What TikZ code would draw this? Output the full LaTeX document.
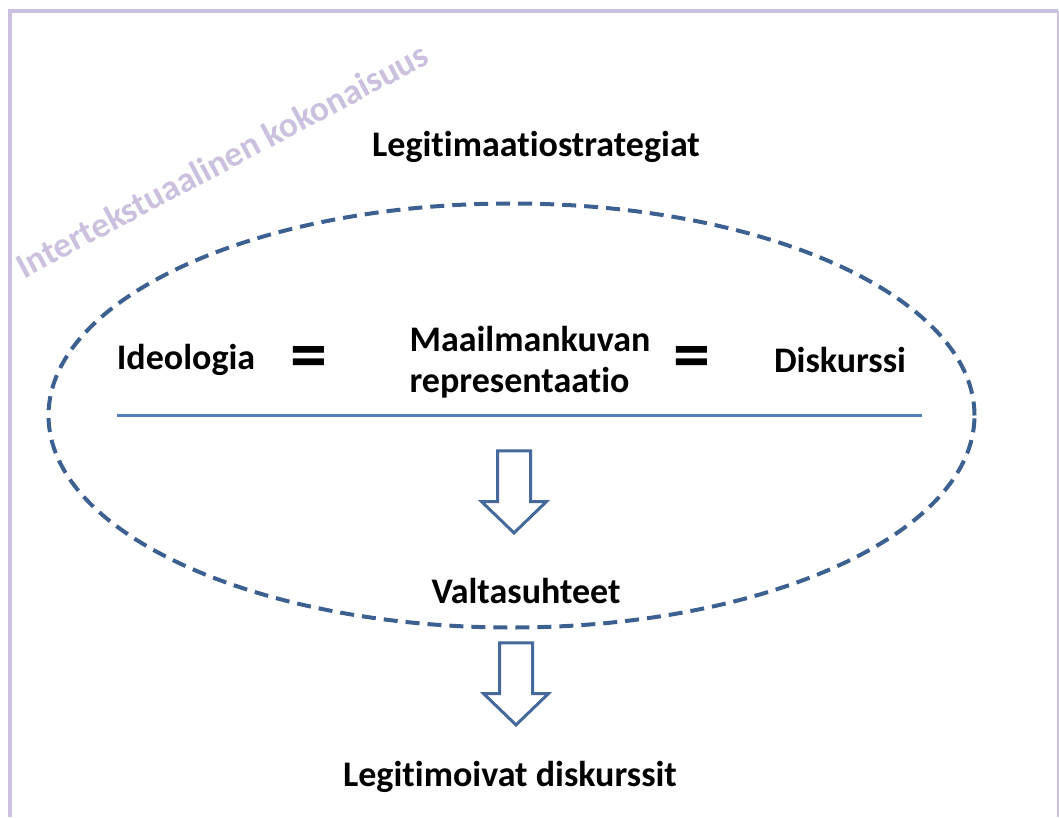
\documentclass[tikz,border=0pt]{standalone}
\usepackage{fontspec}
\setmainfont[Ligatures=NoCommon]{Carlito}
\usetikzlibrary{shapes.geometric, shapes.arrows, positioning}
\definecolor{framelilac}{HTML}{CBC0DD}
\definecolor{ovalblue}{HTML}{3C6090}
\definecolor{ruleblue}{HTML}{4F81BD}
\definecolor{arrowblue}{HTML}{44699A}
\tikzstyle{term} = [font=\bfseries\fontsize{36}{41}\selectfont, align=center, inner sep=0pt, text=black]
\tikzstyle{equal} = [font=\bfseries\fontsize{74}{74}\selectfont, inner sep=0pt]
\tikzstyle{watermark} = [font=\bfseries\fontsize{35.5}{40}\selectfont, text=framelilac, inner sep=0pt, rotate=28]
\tikzstyle{oval} = [ellipse, draw=ovalblue, line width=4pt, dash pattern=on 14pt off 8pt, minimum width=926pt, minimum height=424pt, inner sep=0pt]
\tikzstyle{blockarrow} = [single arrow, draw=arrowblue, line width=3pt, shape border rotate=270, inner sep=15pt, minimum height=82pt, single arrow head extend=16pt, single arrow tip angle=92, anchor=tip]
\tikzstyle{frame} = [framelilac, line width=4pt]

\begin{document}
\begin{tikzpicture}[x=1pt, y=1pt]
\useasboundingbox (0,0) rectangle (1059,-817);

%Frame
\draw [frame] (10,-817) -- (10,-11) -- (1058,-11);
\draw [framelilac, line width=1.5pt] (1058,-11) -- (1058,-817);

%Watermark
\node (whole) [watermark] at (222,-160) {Intertekstuaalinen kokonaisuus};

%Title
\node (strategies) [term] at (536,-147) {Legitimaatiostrategiat};

%Oval
\node (oval) [oval] at (511.5,-415.5) {};

%Equation
\node (ideology) [term] at (186,-360) {Ideologia};
\node (eqleft) [equal] at (309,-363) {=};
\node (worldview) [term, align=left] at (530,-362) {Maailmankuvan\\representaatio};
\node (eqright) [equal] at (692,-363) {=};
\node (discourse) [term] at (840,-360) {Diskurssi};

\coordinate (ruleL) at (117,-415);
\coordinate (ruleR) at (922,-415);
\draw [ruleblue, line width=3pt] (ruleL) -- (ruleR);

%Power
\node (downA) [blockarrow] at (514,-535) {};
\node (power) [term] at (526,-591) {Valtasuhteet};
\node (downB) [blockarrow] at (516,-727) {};

%Result
\node (legitimising) [term] at (510,-777) {Legitimoivat diskurssit};

\end{tikzpicture}
\end{document}
